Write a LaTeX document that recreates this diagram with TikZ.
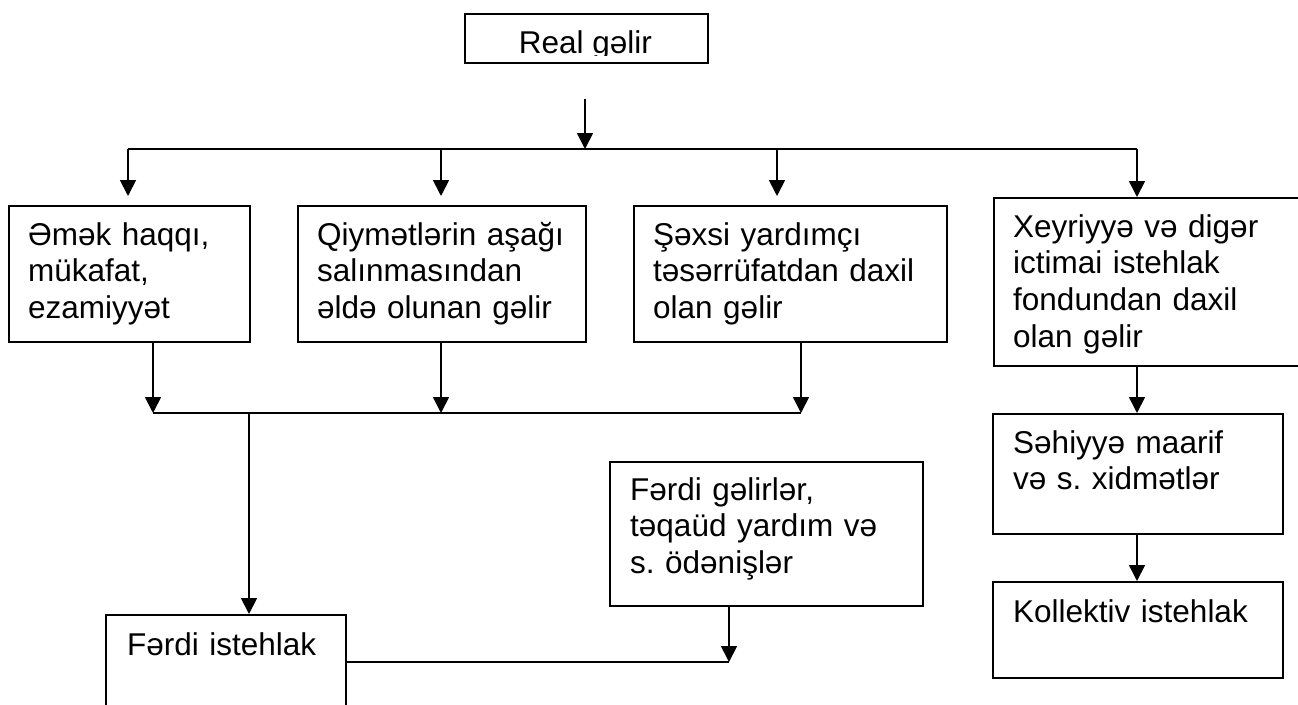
\documentclass[tikz,border=0pt]{standalone}
\usepackage{fontspec}
\setmainfont{Liberation Sans}
\frenchspacing
\usetikzlibrary{arrows.meta}
\begin{document}
\begin{tikzpicture}[x=1pt,y=-1pt,
  box/.style={draw=black,line width=1.8pt,rectangle,inner sep=0pt,anchor=north west},
  txt/.style={inner sep=0pt,anchor=base west,text width=300pt,align=left,
    font={\fontsize{31.5}{36.8}\selectfont}},
  conn/.style={line width=1.8pt},
  arr/.style={line width=1.8pt,-{Triangle[width=16pt,length=16pt]}}]
\clip (0,0) rectangle (1298,704);
\fill[white] (0,0) rectangle (1298,704);
% boxes
\node[box,minimum width=243pt,minimum height=49pt] (real) at (464,13) {};
\node[box,minimum width=241pt,minimum height=136pt] (b1) at (8,205) {};
\node[box,minimum width=288pt,minimum height=136pt] (b2) at (297,205) {};
\node[box,minimum width=313pt,minimum height=136pt] (b3) at (633,205) {};
\node[box,minimum width=310pt,minimum height=168pt] (b4) at (993,197) {};
\node[box,minimum width=290pt,minimum height=120pt] (b5) at (992,413) {};
\node[box,minimum width=290pt,minimum height=96pt] (b6) at (992,581) {};
\node[box,minimum width=313pt,minimum height=144pt] (b7) at (609,461) {};
\node[box,minimum width=240pt,minimum height=110pt] (b8) at (105,614) {};
% texts
\begin{scope}
\clip (464,13) rectangle (707,55);
\node[inner sep=0pt,anchor=base,font={\fontsize{31.5}{36.8}\selectfont}] (realt) at (585.5,53) {Real gəlir};
\end{scope}
\node[txt] (t1) at (28,245) {Əmək haqqı,\\mükafat,\\ezamiyyət};
\node[txt] (t2) at (317,245) {Qiymətlərin aşağı\\salınmasından\\əldə olunan gəlir};
\node[txt] (t3) at (653,245) {Şəxsi yardımçı\\təsərrüfatdan daxil\\olan gəlir};
\node[txt] (t4) at (1013,237) {Xeyriyyə və digər\\ictimai istehlak\\fondundan daxil\\olan gəlir};
\node[txt] (t5) at (1013,453) {Səhiyyə maarif\\və s. xidmətlər};
\node[txt] (t6) at (1013,622) {Kollektiv istehlak};
\node[txt] (t7) at (630,500) {Fərdi gəlirlər,\\təqaüd yardım və\\s. ödənişlər};
\node[txt] (t8) at (127,655) {Fərdi istehlak};
% connector points
\coordinate (top) at (585,99);
\coordinate (hub) at (585,149);
\coordinate (hl) at (128,149);
\coordinate (hr) at (1137,149);
\coordinate (a1) at (128,196);
\coordinate (h2) at (441,149);
\coordinate (a2) at (441,196);
\coordinate (h3) at (777,149);
\coordinate (a3) at (777,196);
\coordinate (j1) at (153,413);
\coordinate (j2) at (441,413);
\coordinate (j3) at (801,413);
\coordinate (jm) at (249,413);
\coordinate (m7) at (729,662);
% connectors
\draw[arr] (top) -- (hub);
\draw[conn] (hl) -- (hr);
\draw[arr] (hl) -- (a1);
\draw[arr] (h2) -- (a2);
\draw[arr] (h3) -- (a3);
\draw[arr] (hr) -- (b4.north west -| hr);
\draw[arr] (b1.south west -| j1) -- (j1);
\draw[arr] (b2.south west -| j2) -- (j2);
\draw[arr] (b3.south west -| j3) -- (j3);
\draw[conn] (j1) -- (j3);
\draw[arr] (jm) -- (b8.north west -| jm);
\draw[arr] (b4.south west -| hr) -- (b5.north west -| hr);
\draw[arr] (b5.south west -| hr) -- (b6.north west -| hr);
\draw[arr] (b7.south west -| m7) -- (m7);
\draw[conn] (b8.north east |- m7) -- (m7);
\end{tikzpicture}
\end{document}
